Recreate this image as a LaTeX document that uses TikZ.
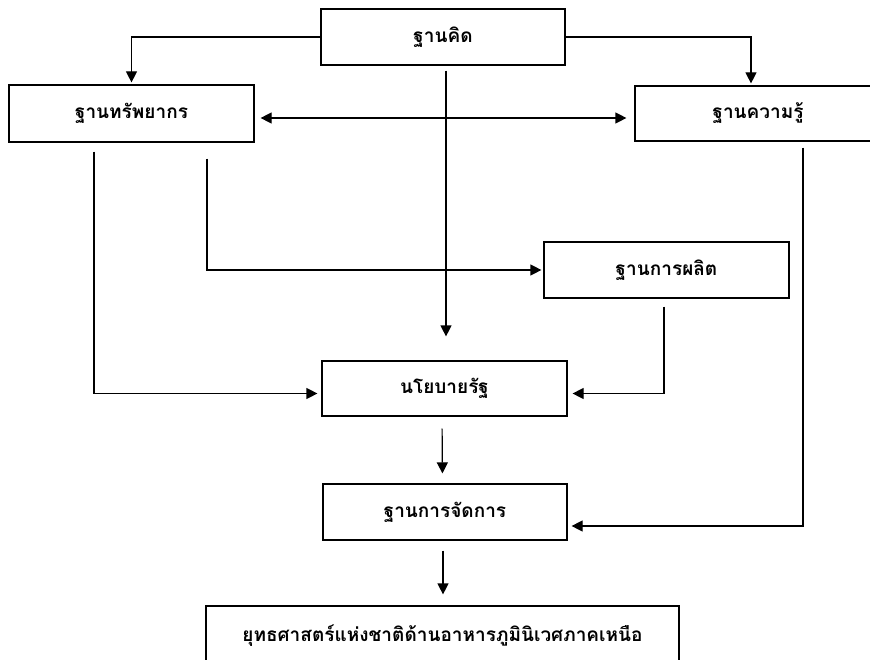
\documentclass[tikz,border=0pt]{standalone}
\usepackage{fontspec}
\newfontfamily\thaifont[Script=Thai]{Loma}
\usetikzlibrary{arrows.meta}
\begin{document}
\begin{tikzpicture}[x=1pt,y=-1pt,
  box/.style={draw, line width=1.2pt, inner sep=0pt, minimum width=245pt, minimum height=56pt, font=\thaifont\bfseries\fontsize{19}{22}\selectfont},
  arr/.style={line width=1.2pt, -{Triangle[length=11pt,width=11pt]}},
  dblarr/.style={line width=1.2pt, {Triangle[length=11pt,width=11pt]}-{Triangle[length=11pt,width=11pt]}}]
\useasboundingbox (0,0) rectangle (870,660);
\node[box, minimum width=244pt] (kid) at (443,37) {ฐานคิด};
\node[box, minimum height=57pt] (res) at (131.5,113.5) {ฐานทรัพยากร};
\node[box, minimum width=246pt, minimum height=55pt] (know) at (758,113.5) {ฐานความรู้};
\node[box] (prod) at (666.5,270) {ฐานการผลิต};
\node[box, minimum height=55pt] (pol) at (444.5,388.5) {นโยบายรัฐ};
\node[box, minimum width=244pt] (man) at (445,512) {ฐานการจัดการ};
\node[box, minimum width=473pt, minimum height=60pt] (strat) at (442.5,636) {ยุทธศาสตร์แห่งชาติด้านอาหารภูมินิเวศภาคเหนือ};
% connectors
\draw[arr, shorten >=2pt] (kid.west) -| (res.north);
\draw[arr, shorten >=2pt] (kid.east) -| ([xshift=-7pt]know.north);
\draw[dblarr, shorten <=6pt, shorten >=8pt] ([yshift=-4.5pt]res.east) -- ([yshift=-4.5pt]know.west);
\draw[arr, shorten <=5pt, shorten >=24pt] ([xshift=3pt]kid.south) -- ([xshift=1.5pt]pol.north);
\draw[arr, shorten >=2pt] ([xshift=75.5pt,yshift=-16pt]res.south) |- (prod.west);
\draw[arr, shorten >=4pt] ([xshift=-37.5pt,yshift=-9pt]res.south) |- ([yshift=-5pt]pol.west);
\draw[arr, shorten >=5pt] ([xshift=-2.5pt,yshift=-8pt]prod.south) |- ([yshift=-5pt]pol.east);
\draw[arr, shorten >=4pt] ([xshift=45pt,yshift=-6pt]know.south) |- ([yshift=-14pt]man.east);
\draw[arr, shorten <=12pt, shorten >=10pt] ([xshift=-2.5pt]pol.south) -- ([xshift=-2.5pt]man.north);
\draw[arr, shorten <=10pt, shorten >=11pt] ([xshift=-2pt]man.south) -- ([xshift=0.5pt]strat.north);
\end{tikzpicture}
\end{document}
